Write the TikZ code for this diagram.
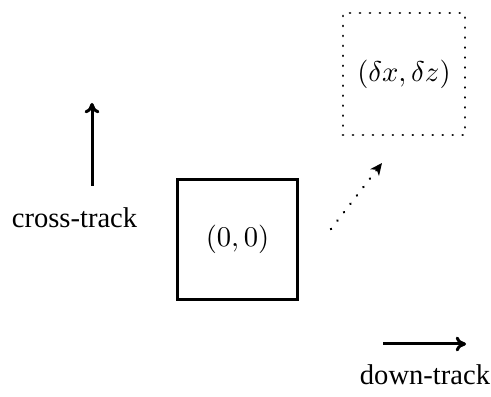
\documentclass[tikz,border=0pt]{standalone}
\usepackage{fontspec}
\setmainfont{Liberation Serif}
\usetikzlibrary{arrows.meta}
\tikzset{
  px/.style={x=0.35pt,y=-0.35pt},
  solidbox/.style={draw,line width=1.05pt,minimum size=42.3pt,inner sep=0pt},
  dotbox/.style={draw,line width=0.95pt,dash pattern=on 0.01pt off 3.48pt,line cap=round,minimum size=42.7pt,inner sep=0pt},
  axisarrow/.style={line width=1.05pt,-{To[length=3.6pt,width=5.2pt]}},
  dotarrow/.style={line width=0.95pt,dash pattern=on 0.01pt off 3.7pt,line cap=round,-{Stealth[length=4.2pt,width=3.8pt,inset=1.2pt]}},
  lbl/.style={font=\fontsize{10pt}{12pt}\selectfont,inner sep=0pt,anchor=base}
}
\begin{document}
\begin{tikzpicture}[px]
\useasboundingbox (0,0) rectangle (491,397);
\node[solidbox] (orig) at (237.5,239.5) {$(0,0)$};
\node[dotbox] (shift) at (404,74) {$(\delta x,\delta z)$};
\node[lbl] (cross) at (74.5,228) {cross-track};
\node[lbl] (down) at (425,385) {down-track};
\coordinate (cu0) at (92,186);
\coordinate (cu1) at (92,103);
\coordinate (dr0) at (383,344);
\coordinate (dr1) at (466,344);
\coordinate (ds0) at (331,229);
\coordinate (ds1) at (382,163);
\draw[axisarrow] (cu0) -- (cu1);
\draw[axisarrow] (dr0) -- (dr1);
\draw[dotarrow] (ds0) -- (ds1);
\end{tikzpicture}
\end{document}
